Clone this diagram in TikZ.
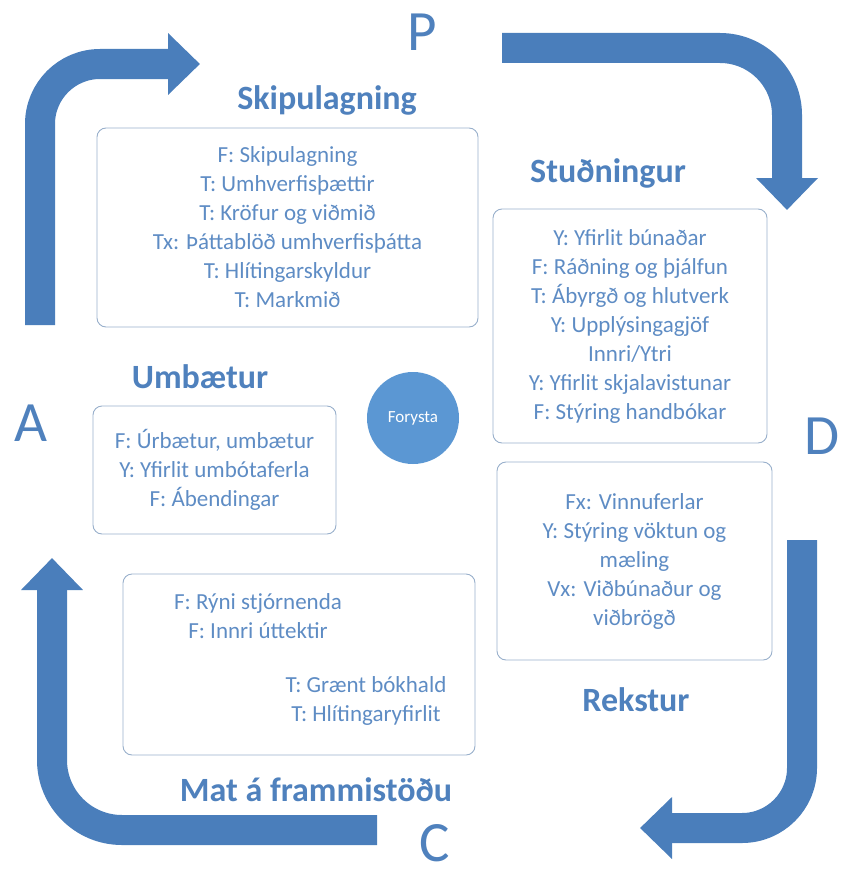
\documentclass[tikz,border=0pt]{standalone}
\usepackage{fontspec}
\setmainfont{Carlito}
\usetikzlibrary{positioning,arrows.meta}
\definecolor{cycleblue}{HTML}{4A7EBB}
\definecolor{headblue}{HTML}{4F81BD}
\definecolor{itemblue}{HTML}{5E8CC4}
\definecolor{framegray}{HTML}{98AFCB}
\definecolor{hubblue}{HTML}{5B97D3}
\tikzset{
  panel/.style={draw=framegray,line width=0.9pt,rounded corners=9pt,inner sep=0pt,
    text=itemblue,align=center,font=\fontsize{23}{29}\selectfont},
  items/.style={text=itemblue,align=center,font=\fontsize{23}{29}\selectfont},
  heading/.style={text=headblue,font=\fontsize{34}{38}\selectfont\bfseries},
  phase/.style={text=headblue,font=\fontsize{57}{57}\selectfont,inner sep=0pt},
  cyclearrow/.style={draw=cycleblue,line width=30pt,-{Triangle[width=60pt,length=32pt]}},
}

\begin{document}
\begin{tikzpicture}[x=1pt,y=-1pt]
    \useasboundingbox (0,0) rectangle (841,875);

    % the four turning arrows
    \coordinate (pstart) at (40,325);
    \coordinate (ptip) at (200,64);
    \coordinate (dstart) at (502,48);
    \coordinate (dtip) at (787,210);
    \coordinate (cstart) at (802,540);
    \coordinate (ctip) at (640,828);
    \coordinate (astart) at (377,830);
    \coordinate (atip) at (52,558);
    \draw[cyclearrow,rounded corners=60pt] (pstart) |- (ptip);
    \draw[cyclearrow,rounded corners=67pt] (dstart) -| (dtip);
    \draw[cyclearrow,rounded corners=60pt] (cstart) |- (ctip);
    \draw[cyclearrow,rounded corners=70pt] (astart) -| (atip);

    \node[phase] (p) at (422,32) {P};
    \node[phase] (d) at (822,436) {D};
    \node[phase] (c) at (435,843) {C};
    \node[phase] (a) at (31,423) {A};

    \node[panel,minimum width=381pt,minimum height=199pt] (planbox) at (287.5,227.5)
        {F: Skipulagning\\T: Umhverfisþættir\\T: Kröfur og viðmið\\Tx: Þáttablöð umhverfisþátta\\T: Hlítingarskyldur\\T: Markmið};
    \node[heading] (plan) at (327,100) {Skipulagning};

    \node[panel,minimum width=274pt,minimum height=234pt] (supportbox) at (630,326)
        {Y: Yfirlit búnaðar\\F: Ráðning og þjálfun\\T: Ábyrgð og hlutverk\\Y: Upplýsingagjöf\\Innri/Ytri\\Y: Yfirlit skjalavistunar\\F: Stýring handbókar};
    \node[heading] (support) at (608,173) {Stuðningur};

    \node[panel,minimum width=275pt,minimum height=198pt] (opsbox) at (634.5,561)
        {Fx: Vinnuferlar\\Y: Stýring vöktun og\\mæling\\Vx: Viðbúnaður og\\viðbrögð};
    \node[heading] (ops) at (636,700) {Rekstur};

    \node[panel,minimum width=243pt,minimum height=128pt] (improvebox) at (214.5,470)
        {F: Úrbætur, umbætur\\Y: Yfirlit umbótaferla\\F: Ábendingar};
    \node[heading] (improve) at (200,377) {Umbætur};

    \node[panel,minimum width=352pt,minimum height=181pt] (evalbox) at (299,664.5) {};
    \node[items] (evaltop) at (258,616) {F: Rýni stjórnenda\\F: Innri úttektir};
    \node[items] (evalbottom) at (366,701) {T: Grænt bókhald\\T: Hlítingaryfirlit};
    \node[heading] (eval) at (316,790) {Mat á frammistöðu};

    \node[circle,fill=hubblue,minimum size=92pt,text=white,font=\fontsize{17}{19}\selectfont] (lead) at (413,418) {Forysta};
\end{tikzpicture}
\end{document}
